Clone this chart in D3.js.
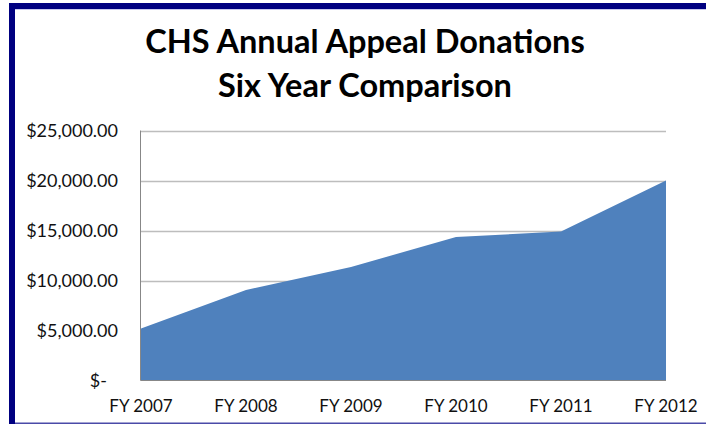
<!DOCTYPE html>
<html>
<head>
<meta charset="utf-8">
<script src="https://cdn.jsdelivr.net/npm/d3@7"></script>
<style>
  html, body { margin: 0; padding: 0; background: #fff; }
  svg { display: block; font-family: Lato, "Open Sans", sans-serif; }
</style>
</head>
<body>
<svg id="chart"></svg>
<script>
// data
var years = ["FY 2007", "FY 2008", "FY 2009", "FY 2010", "FY 2011", "FY 2012"];
var donations = [5200, 9050, 11350, 14350, 14900, 20000];
var yTicks = [0, 5000, 10000, 15000, 20000, 25000];
var titleLines = ["CHS Annual Appeal Donations", "Six Year Comparison"];

var width = 706, height = 427;
var svg = d3.select("#chart").attr("width", width).attr("height", height);

// frame
svg.append("rect").attr("x", 9).attr("y", 3).attr("width", width - 9).attr("height", 6).attr("fill", "#000080");
svg.append("rect").attr("x", 9).attr("y", 3).attr("width", 6).attr("height", 421).attr("fill", "#000080");
svg.append("rect").attr("x", 15).attr("y", 9).attr("width", width - 15).attr("height", 1).attr("fill", "#c8c8ee");
svg.append("rect").attr("x", 15).attr("y", 422.5).attr("width", width - 15).attr("height", 1.5).attr("fill", "#4a4aa8");

// title
svg.append("g").selectAll("text").data(titleLines).enter().append("text")
  .attr("x", 365).attr("y", function (d, i) { return 53 + i * 44; })
  .attr("text-anchor", "middle")
  .attr("font-size", 32.5).attr("font-weight", "bold").attr("fill", "#000")
  .text(function (d) { return d; });

// scales
var plot = { left: 141, right: 666, top: 130.5, bottom: 380.5 };
var x = d3.scalePoint().domain(years).range([plot.left, plot.right]);
var y = d3.scaleLinear().domain([0, 25000]).range([plot.bottom, plot.top]);

// gridlines
svg.append("g").selectAll("line").data(yTicks.filter(function (d) { return d > 0; })).enter().append("line")
  .attr("x1", plot.left).attr("x2", plot.right)
  .attr("y1", function (d) { return Math.round(y(d)) + 0.5; })
  .attr("y2", function (d) { return Math.round(y(d)) + 0.5; })
  .attr("stroke", "#bdbdbd").attr("stroke-width", 1.3);

// area
var area = d3.area()
  .x(function (d, i) { return x(years[i]); })
  .y0(y(0))
  .y1(function (d) { return y(d); });
svg.append("path").datum(donations).attr("d", area).attr("fill", "#4f81bd");

// axes lines
svg.append("line").attr("x1", plot.left - 0.5).attr("x2", plot.left - 0.5)
  .attr("y1", plot.top).attr("y2", plot.bottom).attr("stroke", "#878787").attr("stroke-width", 1);
svg.append("line").attr("x1", plot.left - 0.5).attr("x2", plot.right)
  .attr("y1", plot.bottom).attr("y2", plot.bottom).attr("stroke", "#878787").attr("stroke-width", 1);

// y labels
var money = d3.format(",.2f");
svg.append("g").selectAll("text").data(yTicks).enter().append("text")
  .attr("x", function (d) { return d === 0 ? 107 : 118; })
  .attr("y", function (d) { return y(d) + 6; })
  .attr("text-anchor", "end")
  .attr("font-size", 18).attr("fill", "#111")
  .text(function (d) { return d === 0 ? "$-" : "$" + money(d); });

// x labels
svg.append("g").selectAll("text").data(years).enter().append("text")
  .attr("x", function (d) { return x(d); })
  .attr("y", 412)
  .attr("text-anchor", "middle")
  .attr("font-size", 17).attr("fill", "#111")
  .text(function (d) { return d; });
</script>
</body>
</html>
